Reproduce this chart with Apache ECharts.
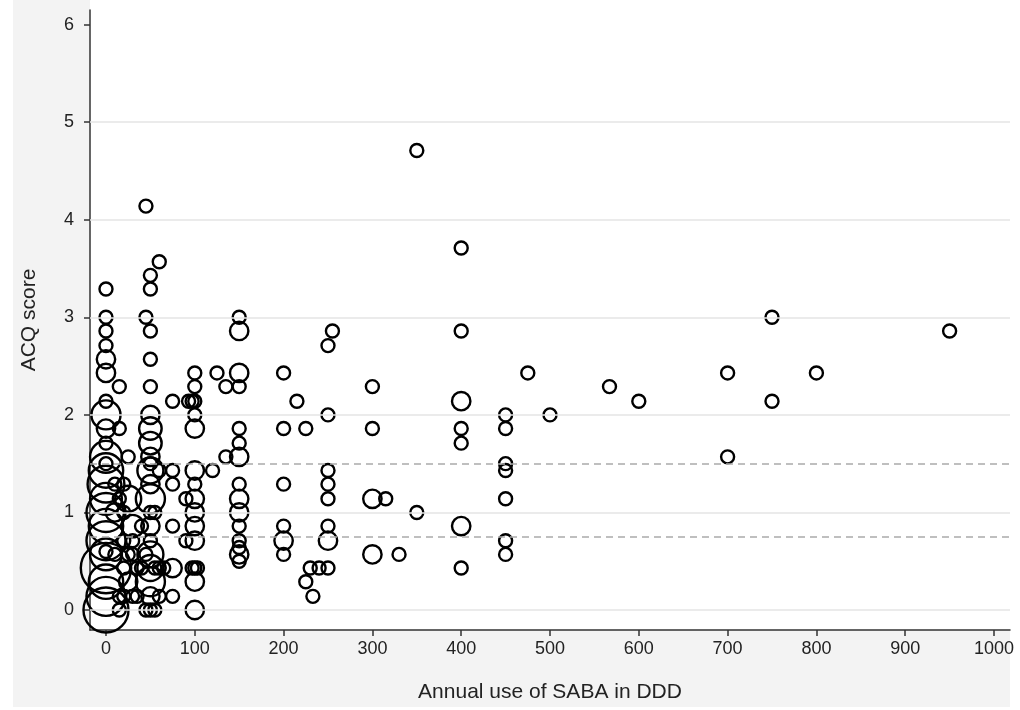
<!DOCTYPE html>
<html>
<head>
<meta charset="utf-8">
<script src="https://cdn.jsdelivr.net/npm/echarts@6/dist/echarts.min.js"></script>
<style>
  html, body { margin: 0; padding: 0; background: #fff; }
  #chart { width: 1020px; height: 710px; }
</style>
</head>
<body>
<div id="chart"></div>
<script>
// SABA use (DDD per year), ACQ score and number of patients at that point
const saba = [
  0, 0, 0, 0, 0, 0, 0, 0, 0, 0, 0, 0, 0, 0, 0, 0, 0, 0, 0, 0, 0, 0, 0, 0,
  10, 10, 10, 15, 15, 15, 15, 15,
  20, 20, 20, 20, 20, 25, 25, 25, 25, 30, 30, 30, 30, 35, 35, 40, 40,
  45, 45, 45, 45,
  50, 50, 50, 50, 50, 50, 50, 50, 50, 50, 50, 50, 50, 50, 50, 50, 50, 50, 50, 50, 50,
  55, 55, 55, 60, 60, 60, 60, 65,
  75, 75, 75, 75, 75, 75,
  90, 90, 93, 97, 97,
  100, 100, 100, 100, 100, 100, 100, 100, 100, 100, 100, 100, 100, 100, 103,
  120, 125, 135, 135,
  150, 150, 150, 150, 150, 150, 150, 150, 150, 150, 150, 150, 150, 150, 150,
  200, 200, 200, 200, 200, 200, 215, 225, 225, 233, 230, 240, 250,
  250, 250, 250, 250, 250, 250, 250, 255,
  300, 300, 300, 300, 315, 330, 350, 350,
  400, 400, 400, 400, 400, 400, 400,
  450, 450, 450, 450, 450, 450, 450,
  475, 500, 567, 600, 700, 700, 750, 750, 800, 950
];
const acq = [
  3.29, 3.0, 2.86, 2.71, 2.57, 2.43, 2.14, 2.0, 1.86, 1.71, 1.57, 1.5, 1.43, 1.29, 1.14, 1.0, 0.86, 0.71, 0.6, 0.57, 0.43, 0.29, 0.14, 0,
  1.29, 1.0, 0.57, 2.29, 1.86, 1.14, 0.14, 0,
  1.29, 1.0, 0.71, 0.43, 0.14, 1.57, 1.14, 0.57, 0.29, 0.86, 0.71, 0.57, 0.14, 0.43, 0.14, 0.86, 0.43,
  4.14, 3.0, 0.57, 0,
  3.43, 3.29, 2.86, 2.57, 2.29, 2.0, 1.86, 1.71, 1.57, 1.5, 1.43, 1.29, 1.14, 1.0, 0.86, 0.71, 0.57, 0.43, 0.29, 0.14, 0,
  1.0, 0.43, 0, 3.57, 1.43, 0.43, 0.14, 0.43,
  2.14, 1.43, 1.29, 0.86, 0.43, 0.14,
  1.14, 0.71, 2.14, 2.14, 0.43,
  2.43, 2.29, 2.14, 2.0, 1.86, 1.43, 1.29, 1.14, 1.0, 0.86, 0.71, 0.43, 0.29, 0, 0.43,
  1.43, 2.43, 2.29, 1.57,
  3.0, 2.86, 2.43, 2.29, 1.86, 1.71, 1.57, 1.29, 1.14, 1.0, 0.86, 0.71, 0.64, 0.57, 0.5,
  2.43, 1.86, 1.29, 0.86, 0.71, 0.57, 2.14, 1.86, 0.29, 0.14, 0.43, 0.43, 0.43,
  2.71, 2.0, 1.43, 1.29, 1.14, 0.86, 0.71, 2.86,
  2.29, 1.86, 1.14, 0.57, 1.14, 0.57, 4.71, 1.0,
  3.71, 2.86, 2.14, 1.86, 1.71, 0.86, 0.43,
  2.0, 1.86, 1.5, 1.43, 1.14, 0.71, 0.57,
  2.43, 2.0, 2.29, 2.14, 2.43, 1.57, 3.0, 2.14, 2.43, 2.86
];
const freq = [
  1, 1, 1, 1, 2, 2, 1, 5, 2, 1, 6, 1, 7, 8, 6, 9, 7, 9, 1, 6, 15, 7, 9, 12,
  1, 2, 1, 1, 1, 1, 1, 1,
  1, 1, 1, 1, 1, 1, 4, 1, 2, 3, 1, 1, 1, 1, 1, 1, 1,
  1, 1, 1, 1,
  1, 1, 1, 1, 1, 2, 3, 3, 2, 1, 4, 2, 5, 1, 2, 1, 4, 4, 5, 2, 1,
  1, 1, 1, 1, 1, 1, 1, 1,
  1, 1, 1, 1, 2, 1,
  1, 1, 1, 1, 1,
  1, 1, 1, 1, 2, 2, 1, 2, 2, 2, 2, 1, 2, 2, 1,
  1, 1, 1, 1,
  1, 2, 2, 1, 1, 1, 2, 1, 2, 2, 1, 1, 1, 2, 1,
  1, 1, 1, 1, 2, 1, 1, 1, 1, 1, 1, 1, 1,
  1, 1, 1, 1, 1, 1, 2, 1,
  1, 1, 2, 2, 1, 1, 1, 1,
  1, 1, 2, 1, 1, 2, 1,
  1, 1, 1, 1, 1, 1, 1,
  1, 1, 1, 1, 1, 1, 1, 1, 1, 1
];
const xTicks = [0, 100, 200, 300, 400, 500, 600, 700, 800, 900, 1000];
const yTicks = [0, 1, 2, 3, 4, 5, 6];
const gridLevels = [0, 1, 2, 3, 4, 5];
const cutOffs = [0.75, 1.5];

const points = saba.map((x, i) => [x, acq[i], freq[i]]);

const chart = echarts.init(document.getElementById("chart"));
const font = "Liberation Sans, Arial, sans-serif";
const axisText = { color: "#222", fontSize: 18, fontFamily: font };

chart.setOption({
  animation: false,
  graphic: [
    { type: "rect", z: -20, shape: { x: 13, y: 0, width: 997, height: 707 }, style: { fill: "#f3f3f3" } },
    { type: "rect", z: -10, shape: { x: 90, y: 0, width: 920, height: 630 }, style: { fill: "#fff" } },
  ],
  grid: { left: 90, right: 10, top: 10, bottom: 80 },
  xAxis: {
    type: "value",
    min: -18,
    max: 1018,
    name: "Annual use of SABA in DDD",
    nameLocation: "middle",
    nameGap: 52,
    nameTextStyle: { color: "#222", fontSize: 21, fontFamily: font },
    axisLine: { onZero: false, lineStyle: { color: "#333", width: 1.5 } },
    axisTick: { customValues: xTicks, length: 6, lineStyle: { color: "#333", width: 1.5 } },
    axisLabel: Object.assign({ customValues: xTicks, margin: 10, formatter: (v) => String(v) }, axisText),
    splitLine: { show: false },
  },
  yAxis: {
    type: "value",
    min: -0.205,
    max: 6.15,
    name: "ACQ score",
    nameLocation: "middle",
    nameGap: 50,
    nameRotate: 90,
    nameTextStyle: { color: "#222", fontSize: 21, fontFamily: font },
    axisLine: { onZero: false, lineStyle: { color: "#333", width: 1.5 } },
    axisTick: { customValues: yTicks, length: 6, lineStyle: { color: "#333", width: 1.5 } },
    axisLabel: Object.assign({ customValues: yTicks, margin: 16 }, axisText),
    splitLine: { show: false },
  },
  series: [
    {
      type: "line",
      data: [],
      silent: true,
      markLine: {
        silent: true,
        symbol: "none",
        label: { show: false },
        lineStyle: { color: "#e4e4e4", width: 1.5, type: "solid" },
        data: gridLevels.map((v) => ({ yAxis: v })),
      },
    },
    {
      type: "line",
      data: [],
      silent: true,
      markLine: {
        silent: true,
        symbol: "none",
        label: { show: false },
        lineStyle: { color: "#aaa", width: 1.5, type: [7, 5] },
        data: cutOffs.map((v) => ({ yAxis: v })),
      },
    },
    {
      type: "scatter",
      data: points,
      symbol: "circle",
      symbolSize: (d) => 13 * Math.sqrt(d[2]),
      itemStyle: { color: "rgba(0,0,0,0)", borderColor: "#000", borderWidth: 2.4, opacity: 1 },
    },
  ],
});
</script>
</body>
</html>
